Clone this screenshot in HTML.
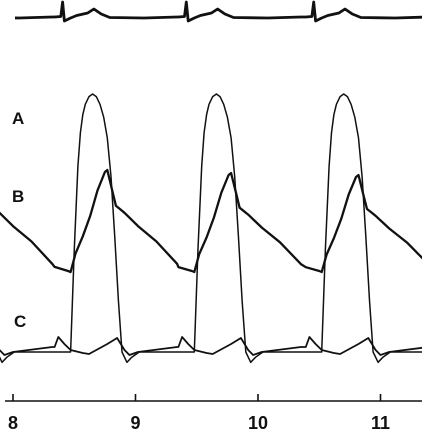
<!DOCTYPE html>
<html><head><meta charset="utf-8">
<style>
html,body{margin:0;padding:0;background:#fff;}
svg{display:block;}
text{font-family:"Liberation Sans",sans-serif;font-weight:bold;fill:#111;}
</style></head>
<body>
<svg id="chart" width="422" height="436" viewBox="0 0 422 436">
  <g id="axis"></g>
  <g id="traces"></g>
  <text x="12" y="124" font-size="17">A</text>
  <text x="12" y="202" font-size="17">B</text>
  <text x="14" y="327" font-size="17">C</text>
</svg>
<script>
// ---- data ----
const tickLabels = ["8", "9", "10", "11"];
const tickValues = [8, 9, 10, 11];
const beatTimes = [7.45, 8.47, 9.48, 10.52, 11.55];
const ecgPhase = [-0.13, -0.08, -0.065, -0.05, 0.0, 0.05, 0.14, 0.19, 0.25, 0.32, 0.6, 0.87];
const ecgValue = [0, 0.5, 15, -4, -1, 1.5, 4, 8, 3, -0.5, -1, 0];
const aPhase = [-0.13, 0, 0.03, 0.06, 0.08, 0.1, 0.12, 0.15, 0.18, 0.21, 0.24, 0.27, 0.3, 0.33, 0.36, 0.39, 0.42, 0.46, 0.5, 0.56, 0.87];
const aValue = [0, 0, 40, 72, 85, 92, 96, 99, 100, 99, 96, 91, 83, 68, 45, 20, 0, -4, -2, 0, 0];
const bPhase = [-0.13, -0.02, 0, 0.04, 0.1, 0.16, 0.22, 0.28, 0.3, 0.34, 0.37, 0.4, 0.44, 0.55, 0.7, 0.87];
const bValue = [5, 1, 0, 18, 35, 55, 80, 98, 100, 80, 65, 62, 58, 45, 30, 8];
const bPeakScale = [1, 1, 0.97, 0.95, 1];
const cPhase = [-0.13, -0.1, -0.05, 0, 0.1, 0.15, 0.3, 0.38, 0.44, 0.48, 0.55, 0.87];
const cValue = [3, 13, 6, 0, -3, -4, 6, 12, 0, -5, -2, 3];

// ---- scales ----
const xOf = t => 13 + (t - 8) * 122.5;
const yEcg = v => 17 - v;
const yA = v => 352 - 2.58 * v;
const yB = v => 272 - 1.02 * v;
const yC = v => 350 - v;

const NS = "http://www.w3.org/2000/svg";
const traces = document.getElementById("traces");
const axis = document.getElementById("axis");

function build(phases, values, yf, scales) {
  const pts = [];
  beatTimes.forEach((bt, i) => {
    const s = scales ? scales[i] : 1;
    phases.forEach((p, j) => {
      pts.push([xOf(bt + p), yf(values[j] * s)]);
    });
  });
  return pts;
}
function draw(pts, width, name) {
  const use = pts.filter(p => p[0] >= -20 && p[0] <= 445);
  let d = "";
  use.forEach((p, k) => { d += (k ? "L" : "M") + p[0].toFixed(1) + "," + p[1].toFixed(1); });
  const path = document.createElementNS(NS, "path");
  path.setAttribute("d", d);
  path.setAttribute("fill", "none");
  path.setAttribute("stroke", "#111");
  path.setAttribute("stroke-width", width);
  path.setAttribute("stroke-linejoin", "round");
  
  
  traces.appendChild(path);
  return path;
}
const clip = document.createElementNS(NS, "clipPath");
clip.setAttribute("id", "ecgclip");
clip.innerHTML = '<rect x="15" y="0" width="407" height="60"/>';
document.getElementById("chart").appendChild(clip);

const ecg = draw(build(ecgPhase, ecgValue, yEcg), 2.8, "ecg-trace");
ecg.setAttribute("clip-path", "url(#ecgclip)");
draw(build(aPhase, aValue, yA), 1.5, "trace-a");
draw(build(bPhase, bValue, yB, bPeakScale), 2.3, "trace-b");
draw(build(cPhase, cValue, yC), 1.8, "trace-c");

// axis
const line = document.createElementNS(NS, "line");
line.setAttribute("x1", 5); line.setAttribute("x2", 422);
line.setAttribute("y1", 401); line.setAttribute("y2", 401);
line.setAttribute("stroke", "#111"); line.setAttribute("stroke-width", 1.6);


axis.appendChild(line);
tickValues.forEach((tv, i) => {
  const x = xOf(tv);
  const tk = document.createElementNS(NS, "line");
  tk.setAttribute("x1", x); tk.setAttribute("x2", x);
  tk.setAttribute("y1", 394); tk.setAttribute("y2", 401);
  tk.setAttribute("stroke", "#111"); tk.setAttribute("stroke-width", 1.6);
  
  
  axis.appendChild(tk);
  const tx = document.createElementNS(NS, "text");
  tx.setAttribute("x", x); tx.setAttribute("y", 429);
  tx.setAttribute("text-anchor", "middle");
  tx.setAttribute("font-size", "18");
  tx.textContent = tickLabels[i];
  
  
  axis.appendChild(tx);
});
</script>
</body></html>
